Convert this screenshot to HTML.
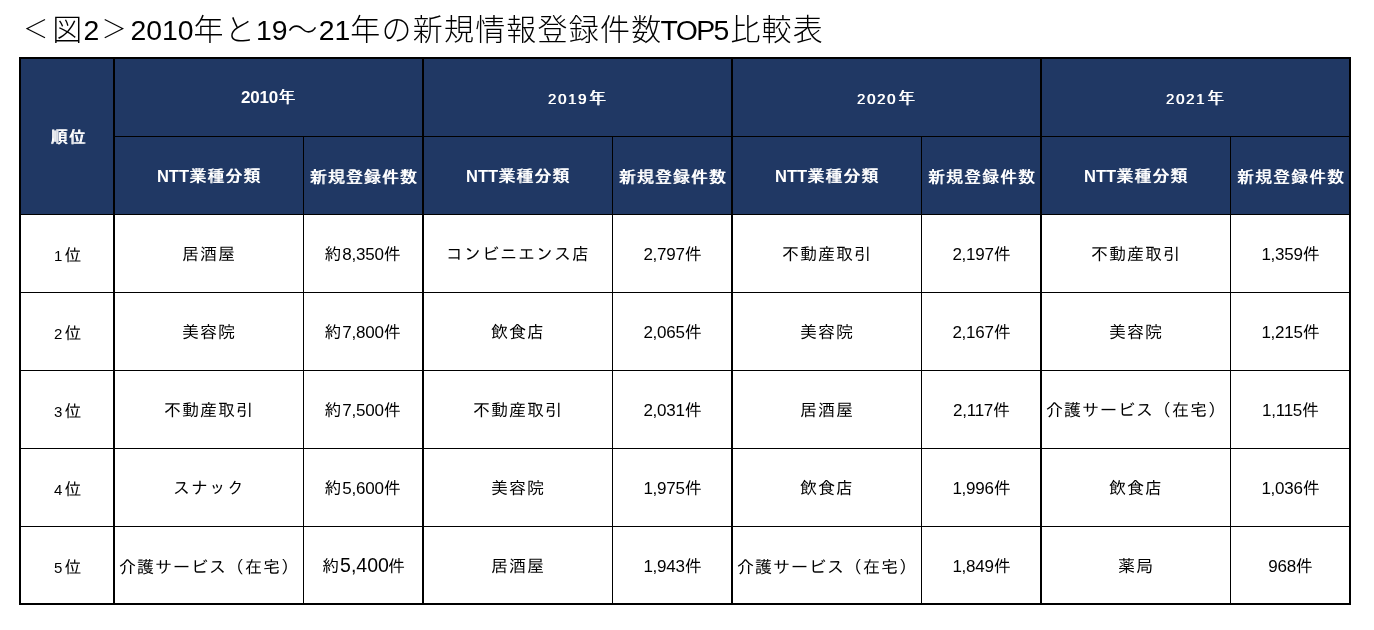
<!DOCTYPE html>
<html lang="ja">
<head>
<meta charset="utf-8">
<title>図2 2010年と19～21年の新規情報登録件数TOP5比較表</title>
<style>
html,body{margin:0;padding:0;background:#fff;}
body{width:1374px;height:630px;position:relative;overflow:hidden;
  font-family:"Liberation Sans","IPAGothic","Noto Sans CJK JP",sans-serif;color:#000;}
h1{position:absolute;left:21px;top:9.6px;margin:0;white-space:nowrap;
  font-family:"Liberation Sans","Noto Sans CJK JP",sans-serif;font-weight:300;
  font-size:30px;line-height:40px;letter-spacing:1.2px;}
h1 .n{font-size:28.4px;letter-spacing:0;}
h1 .b{display:inline-block;width:31.2px;font-size:25px;letter-spacing:0;text-align:center;position:relative;top:-1.5px;left:-0.8px;line-height:20px;}
h1 .t{font-size:28.4px;letter-spacing:-1.6px;margin-left:-1.8px;margin-right:2.6px;}
table{position:absolute;left:19px;top:57px;border-collapse:separate;border-spacing:0;
  table-layout:fixed;width:1332px;}
th,td{box-sizing:border-box;padding:0;margin:0;text-align:center;vertical-align:middle;
  border:0 solid #000;border-right-width:1px;border-bottom-width:1px;
  font-size:17px;line-height:20px;letter-spacing:1px;white-space:nowrap;overflow:hidden;font-weight:400;}
th div,td div{position:relative;height:20px;line-height:20px;top:1px;left:0;padding-left:0;}
.hs div{top:2px;left:0.6px;}
.hr div{left:1.5px;}
th span,td span{line-height:0;}
th{background:#203864;color:#fff;font-weight:400;text-shadow:0.9px 0 0 #fff;}
th span{font-weight:700;text-shadow:none;}
tr.h1 th{height:80px;border-top-width:2px;}
tr.h2 th{height:78px;}
tbody td{height:78px;background:#fff;}
tbody tr:last-child td{border-bottom-width:2px;}
.k{border-right-width:2px;}
.f{border-left-width:2px;}
.d{font-size:17px;letter-spacing:-0.25px;}
.vn div{left:1px;}
tbody tr:last-child td div{top:2px;}
tbody tr:last-child td.r div{top:3px;}
tbody tr:last-child td.kg div{top:3px;}
tbody tr:last-child td.v2 div{top:2px;left:1px;}
.d2{font-size:19.5px;letter-spacing:0;margin-right:-1px;}

th .y{font-size:15px;letter-spacing:1.7px;font-weight:400;text-shadow:0.7px 0 0 #fff;margin-left:-0.8px;margin-right:0.8px;}
.y0 div{top:0;}
.nt{font-size:16.5px;letter-spacing:0;}
.r{font-size:17px;}
.r div{top:2px;padding-left:1px;}
.r .d{font-size:15px;letter-spacing:2.2px;margin-left:1.3px;}
</style>
</head>
<body>
<h1><span class="b">＜</span>図<span class="n">2</span><span class="b">＞</span><span class="n">2010</span>年と<span class="n">19</span>～<span class="n">21</span>年の新規情報登録件数<span class="t">TOP5</span>比較表</h1>
<table>
<colgroup><col style="width:96px"><col style="width:189px"><col style="width:120px"><col style="width:189px"><col style="width:120px"><col style="width:189px"><col style="width:120px"><col style="width:189px"><col style="width:120px"></colgroup>
<thead>
<tr class="h1"><th rowspan="2" class="f k hr"><div>順位</div></th><th colspan="2" class="k y0"><div><span class="d">2010</span>年</div></th><th colspan="2" class="k y1"><div><span class="y">2019</span>年</div></th><th colspan="2" class="k y1"><div><span class="y">2020</span>年</div></th><th colspan="2" class="k y1"><div><span class="y">2021</span>年</div></th></tr>
<tr class="h2"><th class="hn"><div><span class="nt">NTT</span>業種分類</div></th><th class="k hs"><div>新規登録件数</div></th><th class="hn"><div><span class="nt">NTT</span>業種分類</div></th><th class="k hs"><div>新規登録件数</div></th><th class="hn"><div><span class="nt">NTT</span>業種分類</div></th><th class="k hs"><div>新規登録件数</div></th><th class="hn"><div><span class="nt">NTT</span>業種分類</div></th><th class="k hs"><div>新規登録件数</div></th></tr>
</thead>
<tbody>
<tr><td class="f k r"><div><span class="d">1</span>位</div></td><td class="c"><div>居酒屋</div></td><td class="k v"><div>約<span class="d">8,350</span>件</div></td><td class="c"><div>コンビニエンス店</div></td><td class="k v vn"><div><span class="d">2,797</span>件</div></td><td class="c"><div>不動産取引</div></td><td class="k v vn"><div><span class="d">2,197</span>件</div></td><td class="c"><div>不動産取引</div></td><td class="k v vn"><div><span class="d">1,359</span>件</div></td></tr>
<tr><td class="f k r"><div><span class="d">2</span>位</div></td><td class="c"><div>美容院</div></td><td class="k v"><div>約<span class="d">7,800</span>件</div></td><td class="c"><div>飲食店</div></td><td class="k v vn"><div><span class="d">2,065</span>件</div></td><td class="c"><div>美容院</div></td><td class="k v vn"><div><span class="d">2,167</span>件</div></td><td class="c"><div>美容院</div></td><td class="k v vn"><div><span class="d">1,215</span>件</div></td></tr>
<tr><td class="f k r"><div><span class="d">3</span>位</div></td><td class="c"><div>不動産取引</div></td><td class="k v"><div>約<span class="d">7,500</span>件</div></td><td class="c"><div>不動産取引</div></td><td class="k v vn"><div><span class="d">2,031</span>件</div></td><td class="c"><div>居酒屋</div></td><td class="k v vn"><div><span class="d">2,117</span>件</div></td><td class="c"><div>介護サービス（在宅）</div></td><td class="k v vn"><div><span class="d">1,115</span>件</div></td></tr>
<tr><td class="f k r"><div><span class="d">4</span>位</div></td><td class="c"><div>スナック</div></td><td class="k v"><div>約<span class="d">5,600</span>件</div></td><td class="c"><div>美容院</div></td><td class="k v vn"><div><span class="d">1,975</span>件</div></td><td class="c"><div>飲食店</div></td><td class="k v vn"><div><span class="d">1,996</span>件</div></td><td class="c"><div>飲食店</div></td><td class="k v vn"><div><span class="d">1,036</span>件</div></td></tr>
<tr><td class="f k r"><div><span class="d">5</span>位</div></td><td class="c kg"><div>介護サービス（在宅）</div></td><td class="k v v2"><div>約<span class="d2">5,400</span>件</div></td><td class="c"><div>居酒屋</div></td><td class="k v vn"><div><span class="d">1,943</span>件</div></td><td class="c kg"><div>介護サービス（在宅）</div></td><td class="k v vn"><div><span class="d">1,849</span>件</div></td><td class="c"><div>薬局</div></td><td class="k v vn"><div><span class="d">968</span>件</div></td></tr>
</tbody>
</table>
</body>
</html>
